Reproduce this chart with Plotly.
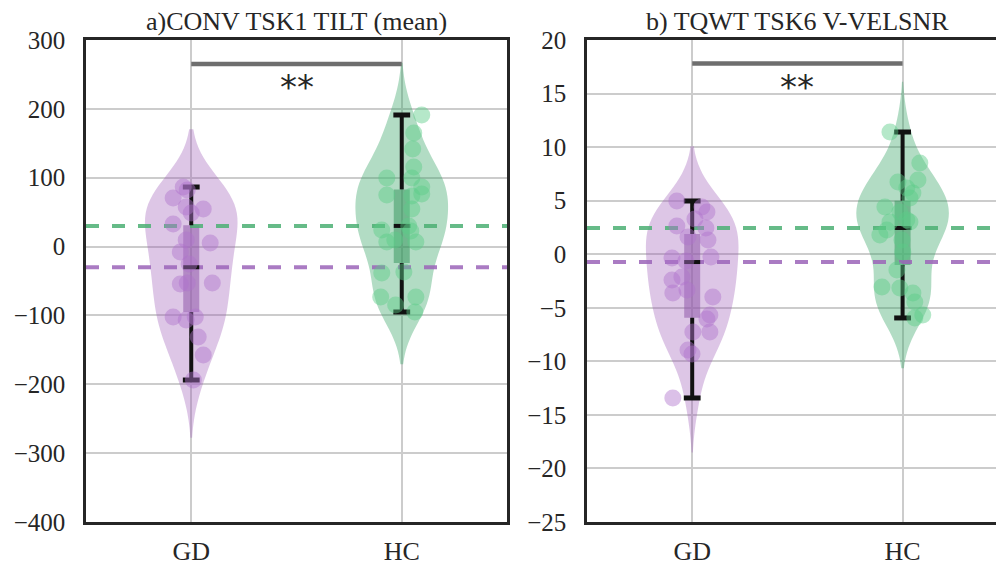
import plotly.graph_objects as go

groups = ["GD", "HC"]

# ---- panel a: CONV TSK1 TILT (mean) ----
tilt_gd = [86.5, 82.2, 70.5, 57.5, 54.6, 48.8, 32.8, 9.5, 5.2, -7.9, -25.3, -54.4,
           -52.9, -52.9, -102.3, -106.6, -102.3, -131.3, -157.5, -193.8]
tilt_gd_jitter = [-0.038, -0.019, -0.086, -0.024, 0.057, 0.0, -0.086, -0.024, 0.090, -0.052,
                  -0.010, -0.052, -0.019, 0.100, -0.086, -0.024, 0.019, 0.033, 0.057, 0.010]
tilt_hc = [191.1, 164.9, 141.7, 115.6, 99.6, 99.6, 86.5, 74.9, 73.4, 76.3, 54.6, 29.9,
           24.1, 22.6, 6.6, 9.5, 6.6, -38.4, -36.9, -73.2, -73.2, -84.9, -95.0]
tilt_hc_jitter = [0.095, 0.057, 0.052, 0.057, -0.071, 0.048, 0.095, -0.071, 0.048, 0.095, 0.048,
                  0.033, -0.095, 0.043, -0.071, -0.033, 0.067, -0.095, 0.010, -0.100, 0.067,
                  -0.029, 0.062]
tilt_q1 = [-95, -24]
tilt_q3 = [31, 83]
tilt_mean = [-30, 30]
tilt_sig = 265
tilt_star = 232

# ---- panel b: TQWT TSK6 V-VELSNR ----
snr_gd = [4.97, 4.41, 3.94, 3.29, 2.63, 2.45, 1.61, 1.33, -0.35, -0.26, -0.63, -2.41,
          -2.13, -3.62, -3.34, -3.99, -5.67, -6.05, -7.26, -7.26, -8.94, -9.32, -13.42]
snr_gd_jitter = [-0.073, 0.046, 0.070, 0.013, -0.073, 0.065, -0.020, 0.075, -0.096, 0.089,
                 -0.030, -0.096, -0.049, -0.092, -0.025, 0.098, 0.084, 0.070, 0.003, 0.084,
                 -0.020, -0.001, -0.092]
snr_hc = [11.41, 8.52, 6.74, 6.93, 6.18, 5.72, 5.25, 4.41, 3.94, 3.19, 3.01, 3.01, 1.79,
          2.26, 1.33, 0.21, -1.47, -3.06, -3.15, -3.62, -4.46, -5.67, -5.95]
snr_hc_jitter = [-0.060, 0.082, -0.022, 0.073, 0.020, 0.049, 0.035, -0.084, -0.013, 0.020,
                 -0.060, 0.035, -0.108, -0.075, -0.003, 0.001, -0.027, -0.098, -0.013, 0.049,
                 0.058, 0.096, 0.058]
snr_q1 = [-5.93, -1.0]
snr_q3 = [1.89, 5.0]
snr_mean = [-0.73, 2.45]
snr_sig = 17.8
snr_star = 15.6

titles = ["a)CONV TSK1 TILT (mean)", "b) TQWT TSK6 V-VELSNR"]

# ---- styling ----
FONT = "Liberation Serif"
INK = "#262626"
VIOLIN_FILL = ["rgba(155,89,182,0.34)", "rgba(46,160,95,0.37)"]
BOX_FILL = ["rgba(140,90,165,0.55)", "rgba(50,140,85,0.50)"]
POINT_FILL = ["rgba(175,115,205,0.45)", "rgba(90,205,135,0.45)"]
MEAN_LINE = ["rgba(155,100,185,0.85)", "rgba(75,175,115,0.85)"]
BOX_HALF = 0.038

fig = go.Figure()


def add_panel(xa, ya, values, jitters, q1, q3, means, sig_y, star_y, bws):
    xr, yr = xa.replace("axis", ""), ya.replace("axis", "")
    # violins
    for i, vals in enumerate(values):
        fig.add_trace(go.Violin(
            x=[i] * len(vals), y=vals, xaxis=xr, yaxis=yr,
            width=0.44, scalemode="width", bandwidth=bws[i], spanmode="soft",
            points=False, fillcolor=VIOLIN_FILL[i], line=dict(width=0, color=VIOLIN_FILL[i]),
            box_visible=False, meanline_visible=False, showlegend=False, hoverinfo="skip",
            orientation="v"))
    # group means as dashed reference lines
    for i, m in enumerate(means):
        fig.add_trace(go.Scatter(
            x=[-0.5, 1.5], y=[m, m], xaxis=xr, yaxis=yr, mode="lines",
            line=dict(color=MEAN_LINE[i], width=4, dash="13px,13px"),
            showlegend=False, hoverinfo="skip"))
    # interquartile boxes
    fig.add_trace(go.Bar(
        x=[0, 1], y=[q3[i] - q1[i] for i in range(2)], base=q1, width=2 * BOX_HALF,
        xaxis=xr, yaxis=yr, marker=dict(color=BOX_FILL, line=dict(width=0)),
        showlegend=False, hoverinfo="skip"))
    # whiskers to the extremes, with caps
    for i, vals in enumerate(values):
        lo, hi = min(vals), max(vals)
        fig.add_trace(go.Scatter(
            x=[i, i, None, i, i], y=[q3[i], hi, None, q1[i], lo], xaxis=xr, yaxis=yr,
            mode="lines", line=dict(color="#111111", width=4),
            showlegend=False, hoverinfo="skip"))
        fig.add_trace(go.Scatter(
            x=[i, i], y=[hi, lo], xaxis=xr, yaxis=yr, mode="markers",
            marker=dict(symbol="line-ew", size=12, line=dict(color="#111111", width=5)),
            showlegend=False, hoverinfo="skip"))
        fig.add_trace(go.Scatter(
            x=[i - BOX_HALF, i + BOX_HALF], y=[means[i], means[i]], xaxis=xr, yaxis=yr,
            mode="lines", line=dict(color="#111111", width=4),
            showlegend=False, hoverinfo="skip"))
    # individual subjects
    for i, vals in enumerate(values):
        fig.add_trace(go.Scatter(
            x=[i + j for j in jitters[i]], y=vals, xaxis=xr, yaxis=yr, mode="markers",
            marker=dict(size=17, color=POINT_FILL[i], line=dict(width=0)),
            showlegend=False, hoverinfo="skip"))
    # significance bracket
    fig.add_trace(go.Scatter(
        x=[0, 1], y=[sig_y, sig_y], xaxis=xr, yaxis=yr, mode="lines",
        line=dict(color="#6e6e6e", width=4.5), showlegend=False, hoverinfo="skip"))
    fig.add_annotation(x=0.5, y=star_y, xref=xr, yref=yr, text="**", showarrow=False,
                       xanchor="center", yanchor="middle",
                       font=dict(family="DejaVu Sans", size=34, color=INK))


add_panel("xaxis", "yaxis", [tilt_gd, tilt_hc], [tilt_gd_jitter, tilt_hc_jitter],
          tilt_q1, tilt_q3, tilt_mean, tilt_sig, tilt_star, [42, 38])
add_panel("xaxis2", "yaxis2", [snr_gd, snr_hc], [snr_gd_jitter, snr_hc_jitter],
          snr_q1, snr_q3, snr_mean, snr_sig, snr_star, [2.55, 2.35])

W, H = 996, 565
ydom = [1 - 522 / H, 1 - 40 / H]
common_x = dict(tickvals=[0, 1], ticktext=groups, showgrid=True, gridcolor="#cccccc",
                gridwidth=2, showline=True, linecolor=INK, linewidth=2.5, mirror=True,
                zeroline=False, ticks="outside", ticklen=4, tickcolor="rgba(0,0,0,0)",
                tickfont=dict(family=FONT, size=26, color=INK), fixedrange=True,
                automargin=False)
common_y = dict(showgrid=True, gridcolor="#cccccc", gridwidth=2, showline=True,
                linecolor=INK, linewidth=2.5, zeroline=False, ticks="outside", ticklen=13,
                tickcolor="rgba(0,0,0,0)", tickfont=dict(family=FONT, size=25, color=INK),
                fixedrange=True, automargin=False)

fig.update_layout(
    width=W, height=H, margin=dict(l=0, r=0, t=0, b=0),
    paper_bgcolor="white", plot_bgcolor="white",
    violinmode="overlay", barmode="overlay", showlegend=False,
    xaxis=dict(domain=[86 / W, 507 / W], range=[-0.5, 1.5], anchor="y", **common_x),
    yaxis=dict(domain=ydom, range=[-400, 300], dtick=100, anchor="x", mirror=True, **common_y),
    xaxis2=dict(domain=[587 / W, 1.0], range=[-0.5, 1.444], anchor="y2", **common_x),
    yaxis2=dict(domain=ydom, range=[-25, 20], dtick=5, anchor="x2", mirror=False, **common_y),
)

# panel titles, centred over each panel's full category span
for xa, title in zip(["x", "x2"], titles):
    fig.add_annotation(x=0.5, y=1 - 21 / H, xref=xa, yref="paper", showarrow=False,
                       xanchor="center", yanchor="middle",
                       text=title, font=dict(family=FONT, size=26, color=INK))

fig.write_html("out.html")
